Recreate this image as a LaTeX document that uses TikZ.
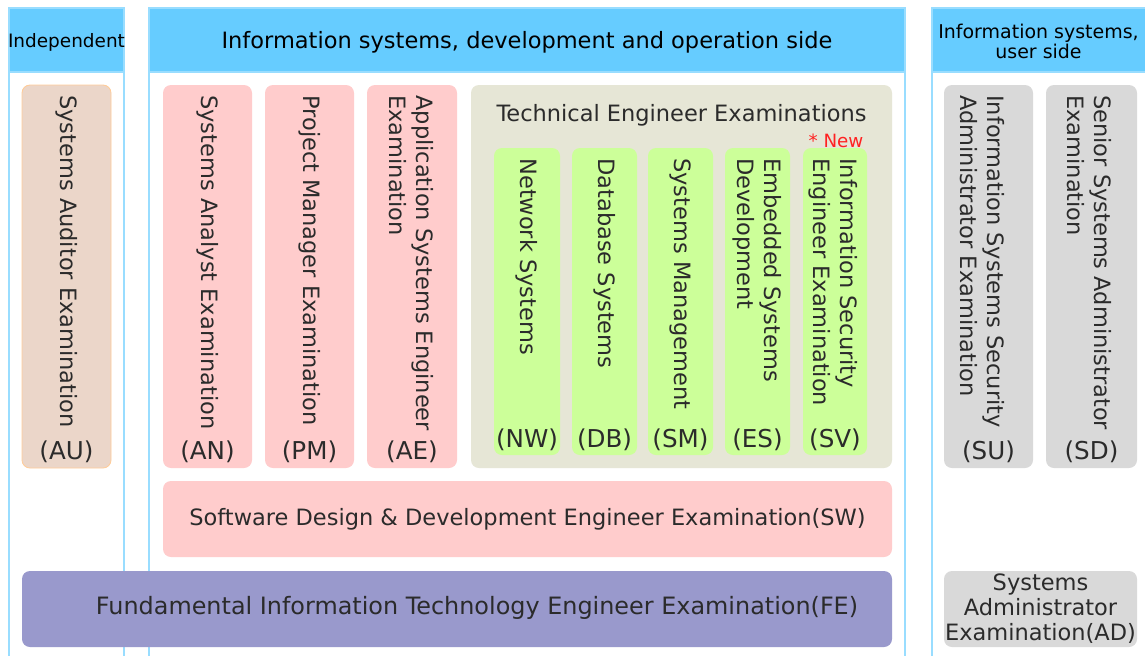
\documentclass[tikz,border=0pt]{standalone}
\usepackage{fontspec}
\setmainfont{DejaVu Sans}
\usetikzlibrary{fit}

\definecolor{headblue}{HTML}{66CCFF}
\definecolor{frameblue}{HTML}{99DDFF}
\definecolor{pinkfill}{HTML}{FFCCCC}
\definecolor{tanfill}{HTML}{EBD6C9}
\definecolor{tanline}{HTML}{FFCC99}
\definecolor{techfill}{HTML}{E6E6D6}
\definecolor{greenfill}{HTML}{CCFF99}
\definecolor{fefill}{HTML}{9999CC}
\definecolor{greyfill}{HTML}{D9D9D9}
\definecolor{textgrey}{HTML}{2B2B2B}
\definecolor{newred}{HTML}{FF2222}

\begin{document}
\begin{tikzpicture}[x=0.02cm,y=-0.02cm,text=textgrey,
	font=\fontsize{12.8}{14.2}\selectfont,
	box/.style={rounded corners=0.16cm,inner sep=0pt},
	head/.style={fill=headblue,draw=frameblue,line width=0.8pt,inner sep=0pt},
	vtext/.style={rotate=-90,anchor=west,align=left,inner sep=0pt,
		font=\fontsize{12.8}{15.4}\selectfont},
	frame/.style={draw=frameblue,line width=0.8pt}]
	\fill[white] (0,0) rectangle (1145,656);
	\useasboundingbox (0,0) rectangle (1145,656);

	\draw[frame] (9,72) -- (9,656);
	\draw[frame] (124,72) -- (124,656);
	\draw[frame] (149,72) -- (149,656);
	\draw[frame] (905,72) -- (905,656);
	\draw[frame] (932,72) -- (932,656);

	\node[head,fit={(9,8) (124,72)}] (indep) {};
	\node[head,fit={(149,8) (905,72)}] (dev) {};
	\node[head,fit={(932,8) (1146,72)}] (user) {};
	\node[text=black,font=\fontsize{10.5}{12}\selectfont] (indeptxt) at (66.5,42) {Independent};
	\node[text=black] (devtxt) at (527,42) {Information systems, development and operation side};
	\node[text=black,align=center,font=\fontsize{10.8}{10.4}\selectfont] (usertxt) at (1038.5,41) {Information systems,\\user side};

	\begin{scope}[every node/.style={box}]
		\node[fill=tanfill,draw=tanline,line width=0.5pt,fit={(22,85) (111,468)}] (AU) {};
		\node[fill=pinkfill,fit={(163,85) (252,468)}] (AN) {};
		\node[fill=pinkfill,fit={(265,85) (354,468)}] (PM) {};
		\node[fill=pinkfill,fit={(367,85) (457,468)}] (AE) {};
		\node[fill=techfill,fit={(471,85) (892,468)}] (TE) {};
		\node[fill=greenfill,fit={(494,148) (560,455)}] (NW) {};
		\node[fill=greenfill,fit={(572,148) (637,455)}] (DB) {};
		\node[fill=greenfill,fit={(648,148) (713,455)}] (SM) {};
		\node[fill=greenfill,fit={(725,148) (790,455)}] (ES) {};
		\node[fill=greenfill,fit={(803,148) (867,455)}] (SV) {};
		\node[fill=pinkfill,fit={(163,481) (892,557)}] (SW) {};
		\node[fill=fefill,fit={(22,571) (892,647)}] (FE) {};
		\node[fill=greyfill,fit={(944,85) (1033,468)}] (SU) {};
		\node[fill=greyfill,fit={(1046,85) (1137,468)}] (SD) {};
		\node[fill=greyfill,fit={(944,571) (1137,647)}] (AD) {};
	\end{scope}

	\begin{scope}[every node/.style={vtext}]
		\node (AUtxt) at (66.5,95) {Systems Auditor Examination};
		\node (ANtxt) at (207.5,95) {Systems Analyst Examination};
		\node (PMtxt) at (309.5,95) {Project Manager Examination};
		\node (AEtxt) at (411,95) {Application Systems Engineer\\Examination};
		\node (NWtxt) at (527,158) {Network Systems};
		\node (DBtxt) at (604.5,158) {Database Systems};
		\node (SMtxt) at (680.5,158) {Systems Management};
		\node (EStxt) at (757.5,158) {Embedded Systems\\Development};
		\node (SVtxt) at (833,158) {Information Security\\Engineer Examination};
		\node (SUtxt) at (982,95) {Information Systems Security\\Administrator Examination};
		\node (SDtxt) at (1089,95) {Senior Systems Administrator\\Examination};
	\end{scope}

	\begin{scope}[every node/.style={inner sep=0pt,font=\fontsize{14}{16}\selectfont}]
		\node (AUcode) at (66.5,452) {(AU)};
		\node (ANcode) at (207.5,452) {(AN)};
		\node (PMcode) at (309.5,452) {(PM)};
		\node (AEcode) at (412,452) {(AE)};
		\node (NWcode) at (527,440) {(NW)};
		\node (DBcode) at (604.5,440) {(DB)};
		\node (SMcode) at (680.5,440) {(SM)};
		\node (EScode) at (757.5,440) {(ES)};
		\node (SVcode) at (835,440) {(SV)};
		\node (SUcode) at (988.5,452) {(SU)};
		\node (SDcode) at (1091.5,452) {(SD)};
	\end{scope}

	\node (TEtxt) at (681.5,115) {Technical Engineer Examinations};
	\node[text=newred,font=\fontsize{10.4}{12}\selectfont] (new) at (836,141) {* New};
	\node (SWtxt) at (SW.center) {Software Design \& Development Engineer Examination(SW)};
	\node[font=\fontsize{13.6}{15}\selectfont] (FEtxt) at (477,608) {Fundamental Information Technology Engineer Examination(FE)};
	\node[align=center] (ADtxt) at (AD.center) {Systems\\Administrator\\Examination(AD)};
\end{tikzpicture}
\end{document}
